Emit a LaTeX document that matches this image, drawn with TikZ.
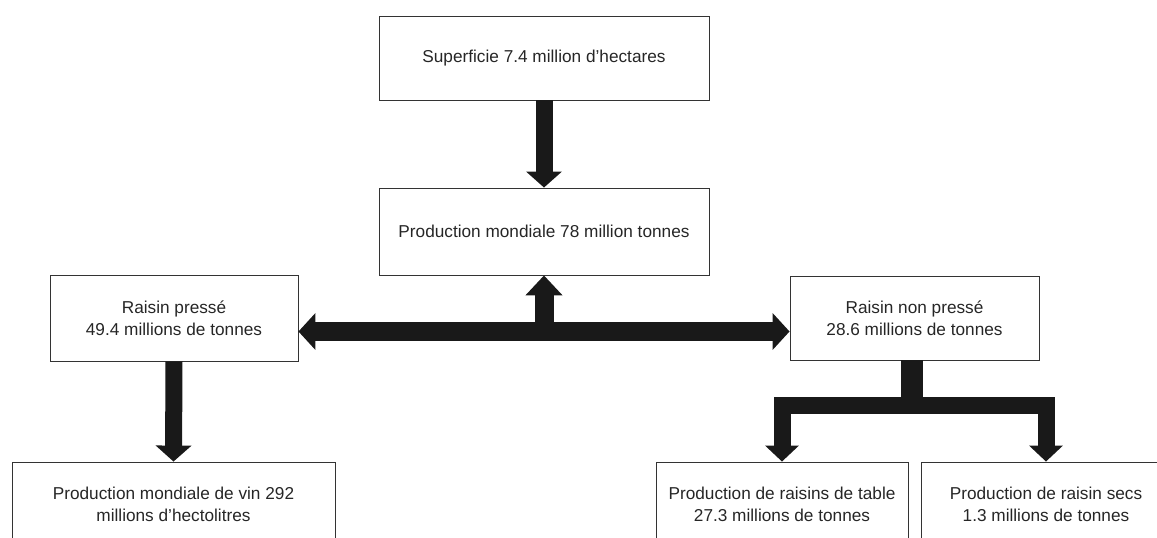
\documentclass[tikz,border=0pt]{standalone}
\usepackage{fontspec}
\setmainfont{Liberation Sans}
\usepackage{tikz}
\usetikzlibrary{arrows.meta}

\tikzset{
  box/.style={draw=black!80, line width=0.5pt, align=center, text=black!85,
    font=\fontsize{9.8pt}{12.5pt}\selectfont, inner sep=2pt},
  fat/.style={line width=3.4mm, black!90,
    -{Triangle[width=7mm,length=3.2mm]}},
}

\begin{document}
\begin{tikzpicture}[x=0.2mm, y=-0.2mm]
  \clip (0,0) rectangle (1157,538);

  % Draw the boxes
  \node[box, minimum width=66mm, minimum height=16.8mm] (surf) at (544,58)
    {Superficie 7.4 million d'hectares};
  \node[box, minimum width=66mm, minimum height=17.4mm] (prod) at (544,231.5)
    {Production mondiale 78 million tonnes};
  \node[box, minimum width=49.6mm, minimum height=17.2mm] (presse) at (174,318)
    {Raisin pressé\\49.4 millions de tonnes};
  \node[box, minimum width=49.8mm, minimum height=16.8mm] (nonpresse) at (914.5,318)
    {Raisin non pressé\\28.6 millions de tonnes};
  \node[box, minimum width=64.6mm, minimum height=16.8mm] (vin) at (173.5,504)
    {Production mondiale de vin 292\\millions d'hectolitres};
  \node[box, minimum width=50.4mm, minimum height=16.8mm] (table) at (782,504)
    {Production de raisins de table\\27.3 millions de tonnes};
  \node[box, minimum width=50mm, minimum height=16.8mm] (secs) at (1046,504)
    {Production de raisin secs\\1.3 millions de tonnes};

  % Points on the bars
  \coordinate (barL) at ([yshift=-2.7mm]presse.east);
  \coordinate (barR) at ([yshift=-2.7mm]nonpresse.west);
  \coordinate (barM) at (prod.south |- barL);
  \coordinate (stem) at (912,405.5);

  % Arrows down
  \draw[fat] (surf.south) -- (prod.north);
  \draw[fat] (presse.south) -- (vin.north);

  % Double arrow between the two kinds of grapes
  \draw[fat, line width=3.8mm, {Triangle[width=7.2mm,length=3.4mm]}-{Triangle[width=7.2mm,length=3.4mm]}]
    (barL) -- (barR);
  \draw[fat, line width=3.8mm, -{Triangle[width=7.2mm,length=4mm]}] (barM) -- (prod.south);

  % Split of the non pressed grapes
  \draw[line width=4.4mm, black!90] (nonpresse.south -| stem) -- (stem);
  \draw[fat, line join=miter, {Triangle[width=6.6mm,length=3.2mm]}-{Triangle[width=6.6mm,length=3.2mm]}]
    (table.north) -- (table.north |- stem) -- (secs.north |- stem) -- (secs.north);

\end{tikzpicture}
\end{document}
